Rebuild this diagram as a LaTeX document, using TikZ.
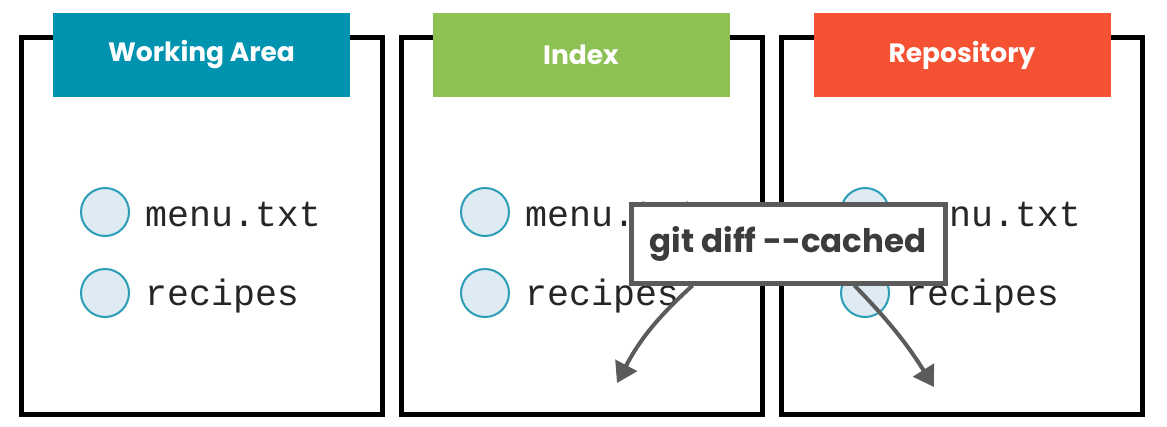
\documentclass[tikz,border=0pt]{standalone}
\usepackage{fontspec}
\newfontfamily\hdrfont{Poppins}
\newfontfamily\monofont{Liberation Mono}
\usetikzlibrary{arrows.meta,calc}
\definecolor{wacol}{HTML}{0093B0}
\definecolor{ixcol}{HTML}{8DC153}
\definecolor{rpcol}{HTML}{F55233}
\definecolor{circfill}{HTML}{DEEBF3}
\definecolor{circline}{HTML}{2B9DB6}
\definecolor{lblline}{HTML}{5B5B5B}
\definecolor{lbltext}{HTML}{3C3C3C}
\tikzset{
  panelbox/.style={draw=black, line width=5pt, minimum width=360.5pt, minimum height=377pt, inner sep=0pt},
  hdrbox/.style={fill=#1, minimum width=297pt, minimum height=84pt, inner sep=0pt, text=white, font=\hdrfont\bfseries\fontsize{26.5}{30}\selectfont},
  filecirc/.style={circle, draw=circline, fill=circfill, line width=2pt, minimum size=48pt, inner sep=0pt},
  filetext/.style={anchor=west, inner sep=0pt, font=\monofont\fontsize{36.6}{40}\selectfont, text=black!85},
  cmdbox/.style={draw=lblline, fill=white, line width=5pt, minimum width=314pt, minimum height=79pt, inner sep=0pt, text=lbltext, font=\hdrfont\bfseries\fontsize{32.5}{36}\selectfont},
  cmdarrow/.style={draw=lblline, line width=4pt, -{Triangle[length=20pt,width=24pt]}}
}
\begin{document}
\begin{tikzpicture}[x=1pt,y=-1pt]
\useasboundingbox[fill=white] (0,0) rectangle (1167,426);
% panels
\node[panelbox] (p1) at (201.75,226) {};
\node[panelbox] (p2) at (582,226) {};
\node[panelbox] (p3) at (962,226) {};
% headers
\node[hdrbox=wacol] (h1) at (201.5,55) {Working Area};
\node[hdrbox=ixcol] (h2) at (581,55) {Index};
\node[hdrbox=rpcol] (h3) at (962,55) {Repository};
% files
\node[filecirc] (c1a) at (105,212) {};
\node[filecirc] (c1b) at (105,293) {};
\node[filetext] (t1a) at (145,214) {menu.txt};
\node[filetext] (t1b) at (145,296) {recipes};
\node[filecirc] (c2a) at (485,212) {};
\node[filecirc] (c2b) at (485,293) {};
\node[filetext] (t2a) at (525,214) {menu.txt};
\node[filetext] (t2b) at (525,296) {recipes};
\node[filecirc] (c3a) at (865,212) {};
\node[filecirc] (c3b) at (865,293) {};
\node[filetext] (t3a) at (905,214) {menu.txt};
\node[filetext] (t3b) at (905,296) {recipes};
% command label
\node[cmdbox] (cmd) at (788,243.5) {git diff --cached};
\coordinate (endl) at (617,383);
\coordinate (endr) at (934,387);
\draw[cmdarrow] ($(cmd.south west)+(64,0)$) to[bend right=10] (endl);
\draw[cmdarrow] ($(cmd.south west)+(226,0)$) to[bend left=6] (endr);
\end{tikzpicture}
\end{document}
